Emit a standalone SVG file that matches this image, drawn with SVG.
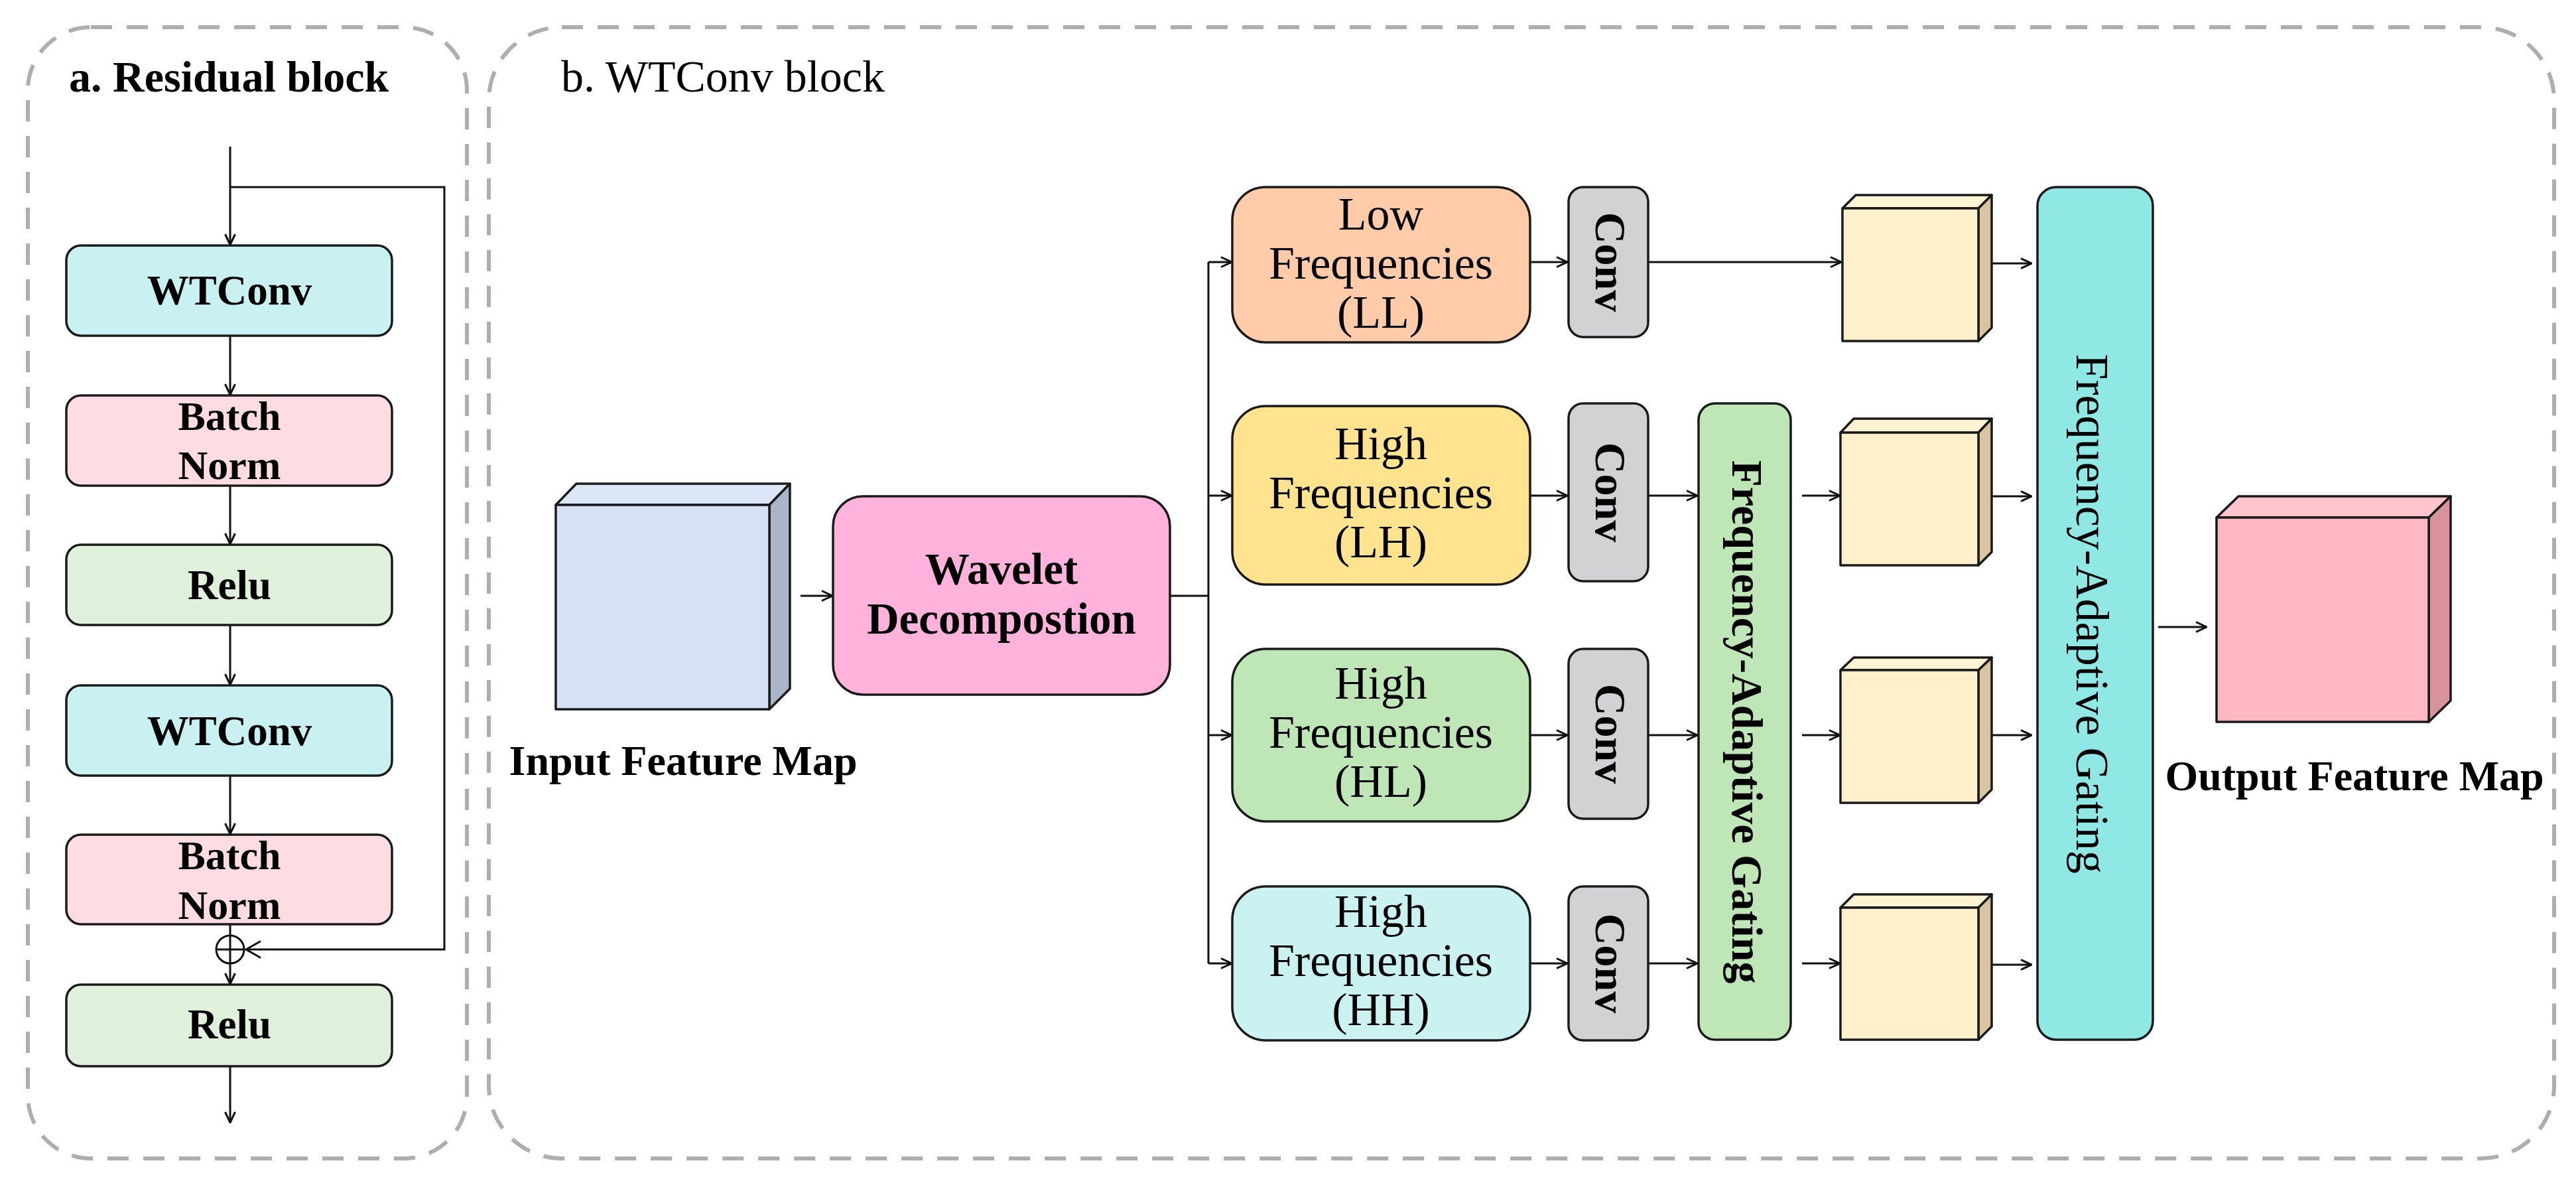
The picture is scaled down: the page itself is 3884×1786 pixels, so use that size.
<svg xmlns="http://www.w3.org/2000/svg" width="3884" height="1786" viewBox="0 0 3884 1786">
<defs>
<marker id="ah" viewBox="0 0 18 18" refX="17" refY="9" markerWidth="18" markerHeight="18" markerUnits="userSpaceOnUse" orient="auto">
<path d="M1,1.5 L17,9 L1,16.5" fill="none" stroke="#111" stroke-width="3"/>
</marker>
<marker id="ahb" viewBox="0 0 24 28" refX="23" refY="14" markerWidth="24" markerHeight="28" markerUnits="userSpaceOnUse" orient="auto">
<path d="M1,1.5 L23,14 L1,26.5" fill="none" stroke="#111" stroke-width="3"/>
</marker>
</defs>
<style>
.frame{fill:none;stroke:#b1adad;stroke-width:6;stroke-dasharray:32 22}
.box{stroke:#1a1a1a;stroke-width:3.5}
.ln{fill:none;stroke:#111;stroke-width:3}
.arr{fill:none;stroke:#111;stroke-width:3;marker-end:url(#ah)}
.tb{font-family:"Liberation Serif","Times New Roman",serif;font-weight:bold;fill:#000}
.tr{font-family:"Liberation Serif","Times New Roman",serif;font-weight:normal;fill:#000}
.c{text-anchor:middle}
.wt{fill:#c9f1f1}.bn{fill:#ffdbe2}.re{fill:#dff0db}
.cube-f{stroke:#1a1a1a;stroke-width:3.5;stroke-linejoin:round}
</style>
<rect width="3884" height="1786" fill="#fff"/>

<g id="frame-a"><rect class="frame" x="42" y="41" width="662" height="1705" rx="95" ry="95"/>
<text class="tb" x="104" y="138" font-size="66">a. Residual block</text></g>
<g id="frame-b"><rect class="frame" x="737" y="41" width="3114" height="1705" rx="110" ry="110"/>
<text class="tr" x="846" y="138" font-size="68">b. WTConv block</text></g>

<g id="connectors">
<line class="arr" x1="347" y1="221" x2="347" y2="369"/>
<polyline class="ln" points="347,282 670,282 670,1431 392,1431"/>
<line class="ln" x1="370" y1="1431" x2="393" y2="1431" marker-end="none"/>
<path d="M393,1418.5 L371,1431 L393,1443.5" fill="none" stroke="#111" stroke-width="3"/>
<line class="arr" x1="347" y1="506" x2="347" y2="595"/>
<line class="arr" x1="347" y1="732" x2="347" y2="820"/>
<line class="arr" x1="347" y1="942" x2="347" y2="1032"/>
<line class="arr" x1="347" y1="1169" x2="347" y2="1257"/>
<line class="arr" x1="347" y1="1393" x2="347" y2="1483"/>
<line class="arr" x1="347" y1="1607" x2="347" y2="1692"/>

<line class="arr" x1="1207" y1="898" x2="1255" y2="898"/>
<polyline class="ln" points="1764,898 1822,898"/>
<line class="ln" x1="1822" y1="395" x2="1822" y2="1452"/>
<line class="arr" x1="1822" y1="395" x2="1857" y2="395"/>
<line class="arr" x1="1822" y1="747" x2="1857" y2="747"/>
<line class="arr" x1="1822" y1="1108" x2="1857" y2="1108"/>
<line class="arr" x1="1822" y1="1452" x2="1857" y2="1452"/>
<line class="arr" x1="2307" y1="395" x2="2363" y2="395"/>
<line class="arr" x1="2307" y1="747" x2="2363" y2="747"/>
<line class="arr" x1="2307" y1="1108" x2="2363" y2="1108"/>
<line class="arr" x1="2307" y1="1452" x2="2363" y2="1452"/>
<line class="arr" x1="2485" y1="395" x2="2776" y2="395"/>
<line class="arr" x1="2485" y1="747" x2="2559" y2="747"/>
<line class="arr" x1="2485" y1="1108" x2="2559" y2="1108"/>
<line class="arr" x1="2485" y1="1452" x2="2559" y2="1452"/>
<line class="arr" x1="2717" y1="747" x2="2774" y2="747"/>
<line class="arr" x1="2717" y1="1108" x2="2774" y2="1108"/>
<line class="arr" x1="2717" y1="1452" x2="2774" y2="1452"/>
<line class="arr" x1="2990" y1="397" x2="3063" y2="397"/>
<line class="arr" x1="2990" y1="748" x2="3063" y2="748"/>
<line class="arr" x1="2990" y1="1108" x2="3063" y2="1108"/>
<line class="arr" x1="2990" y1="1454" x2="3063" y2="1454"/>
<line class="arr" x1="3254" y1="945" x2="3327" y2="945"/>
</g>

<g id="wtconv1"><rect class="box wt" x="100" y="370" width="491" height="136" rx="22"/>
<text class="tb c" x="346" y="459" font-size="63">WTConv</text></g>
<g id="bn1"><rect class="box bn" x="100" y="596" width="491" height="136" rx="22"/>
<text class="tb c" x="346" y="648" font-size="62">Batch</text>
<text class="tb c" x="346" y="722" font-size="62">Norm</text></g>
<g id="relu1"><rect class="box re" x="100" y="821" width="491" height="121" rx="22"/>
<text class="tb c" x="346" y="903" font-size="63">Relu</text></g>
<g id="wtconv2"><rect class="box wt" x="100" y="1033" width="491" height="136" rx="22"/>
<text class="tb c" x="346" y="1123" font-size="63">WTConv</text></g>
<g id="bn2"><rect class="box bn" x="100" y="1258" width="491" height="135" rx="22"/>
<text class="tb c" x="346" y="1310" font-size="62">Batch</text>
<text class="tb c" x="346" y="1385" font-size="62">Norm</text></g>
<g id="add"><circle cx="347" cy="1431" r="21" fill="none" stroke="#111" stroke-width="3"/>
<line class="ln" x1="326" y1="1431" x2="368" y2="1431"/></g>
<g id="relu2"><rect class="box re" x="100" y="1484" width="491" height="123" rx="22"/>
<text class="tb c" x="346" y="1565" font-size="63">Relu</text></g>

<g id="input-map">
<polygon class="cube-f" points="838,761 869,729 1191,729 1160,761" fill="#dce6f6"/>
<polygon class="cube-f" points="1160,761 1191,729 1191,1038 1160,1069" fill="#a9b6c9"/>
<rect class="cube-f" x="838" y="761" width="322" height="308" fill="#d6e2f4"/>
<text class="tb c" x="1030" y="1168" font-size="64">Input Feature Map</text></g>

<g id="wavelet"><rect class="box" x="1256" y="748" width="508" height="299" rx="45" fill="#ffb3dc"/>
<text class="tb c" x="1510" y="880" font-size="67">Wavelet</text>
<text class="tb c" x="1510" y="955" font-size="67">Decompostion</text></g>

<g id="ll"><rect class="box" x="1858" y="282" width="449" height="234" rx="50" fill="#ffcba9"/>
<text class="tr c" x="2082" y="346" font-size="70">Low</text>
<text class="tr c" x="2082" y="420" font-size="70">Frequencies</text>
<text class="tr c" x="2082" y="494" font-size="70">(LL)</text></g>
<g id="lh"><rect class="box" x="1858" y="612" width="449" height="269" rx="50" fill="#ffe38f"/>
<text class="tr c" x="2082" y="692" font-size="70">High</text>
<text class="tr c" x="2082" y="766" font-size="70">Frequencies</text>
<text class="tr c" x="2082" y="840" font-size="70">(LH)</text></g>
<g id="hl"><rect class="box" x="1858" y="978" width="449" height="260" rx="50" fill="#bfe6b6"/>
<text class="tr c" x="2082" y="1053" font-size="70">High</text>
<text class="tr c" x="2082" y="1127" font-size="70">Frequencies</text>
<text class="tr c" x="2082" y="1201" font-size="70">(HL)</text></g>
<g id="hh"><rect class="box" x="1858" y="1336" width="449" height="232" rx="50" fill="#c9f2f1"/>
<text class="tr c" x="2082" y="1397" font-size="70">High</text>
<text class="tr c" x="2082" y="1471" font-size="70">Frequencies</text>
<text class="tr c" x="2082" y="1545" font-size="70">(HH)</text></g>

<g id="conv-ll"><rect class="box" x="2365" y="282" width="120" height="226" rx="22" fill="#d1d2d4"/>
<text class="tb c" transform="translate(2428,395) rotate(90)" dominant-baseline="central" font-size="66">Conv</text></g>
<g id="conv-lh"><rect class="box" x="2365" y="608" width="120" height="268" rx="22" fill="#d1d2d4"/>
<text class="tb c" transform="translate(2428,742) rotate(90)" dominant-baseline="central" font-size="66">Conv</text></g>
<g id="conv-hl"><rect class="box" x="2365" y="978" width="120" height="256" rx="22" fill="#d1d2d4"/>
<text class="tb c" transform="translate(2428,1106) rotate(90)" dominant-baseline="central" font-size="66">Conv</text></g>
<g id="conv-hh"><rect class="box" x="2365" y="1336" width="120" height="232" rx="22" fill="#d1d2d4"/>
<text class="tb c" transform="translate(2428,1452) rotate(90)" dominant-baseline="central" font-size="66">Conv</text></g>

<g id="gating-high"><rect class="box" x="2561" y="608" width="139" height="959" rx="25" fill="#bfe6b6"/>
<text class="tb c" transform="translate(2634,1088) rotate(90)" dominant-baseline="central" font-size="66">Frequency-Adaptive Gating</text></g>

<g id="cube-ll">
<polygon class="cube-f" points="2778,314 2798,294 3003,294 2983,314" fill="#fff3d3"/>
<polygon class="cube-f" points="2983,314 3003,294 3003,494 2983,514" fill="#d8c59f"/>
<rect class="cube-f" x="2778" y="314" width="205" height="200" fill="#fff0cc"/></g>
<g id="cube-lh">
<polygon class="cube-f" points="2775,652 2795,631 3003,631 2983,652" fill="#fff3d3"/>
<polygon class="cube-f" points="2983,652 3003,631 3003,832 2983,852" fill="#d8c59f"/>
<rect class="cube-f" x="2775" y="652" width="208" height="200" fill="#fff0cc"/></g>
<g id="cube-hl">
<polygon class="cube-f" points="2775,1010 2795,991 3003,991 2983,1010" fill="#fff3d3"/>
<polygon class="cube-f" points="2983,1010 3003,991 3003,1190 2983,1210" fill="#d8c59f"/>
<rect class="cube-f" x="2775" y="1010" width="208" height="200" fill="#fff0cc"/></g>
<g id="cube-hh">
<polygon class="cube-f" points="2775,1368 2795,1348 3003,1348 2983,1368" fill="#fff3d3"/>
<polygon class="cube-f" points="2983,1368 3003,1348 3003,1547 2983,1567" fill="#d8c59f"/>
<rect class="cube-f" x="2775" y="1368" width="208" height="199" fill="#fff0cc"/></g>

<g id="gating-all"><rect class="box" x="3072" y="282" width="174" height="1285" rx="28" fill="#8fe8e4"/>
<text class="tr c" transform="translate(3154,925) rotate(90)" dominant-baseline="central" font-size="70">Frequency-Adaptive Gating</text></g>

<g id="output-map">
<polygon class="cube-f" points="3342,780 3375,748 3695,748 3662,780" fill="#ffc4cc"/>
<polygon class="cube-f" points="3662,780 3695,748 3695,1056 3662,1088" fill="#d9929b"/>
<rect class="cube-f" x="3342" y="780" width="320" height="308" fill="#ffb8c2"/>
<text class="tb c" x="3550" y="1191" font-size="64">Output Feature Map</text></g>
</svg>
